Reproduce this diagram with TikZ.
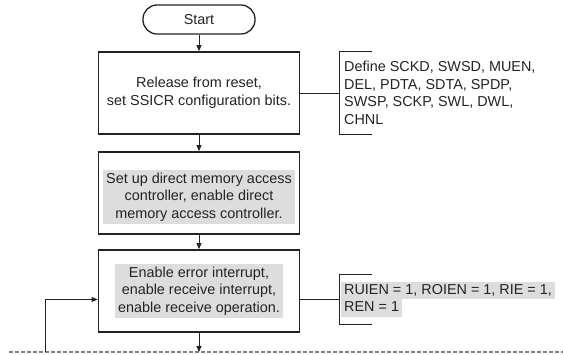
\documentclass[tikz,border=0pt]{standalone}
\usepackage{fontspec}
\setmainfont{Liberation Sans}
\usetikzlibrary{arrows.meta}
\definecolor{hlgray}{RGB}{221,221,221}
\definecolor{inkgray}{RGB}{35,35,35}
\newcommand{\hlrow}[1]{{\fboxsep=0pt\colorbox{hlgray}{\strut\hspace{3pt}#1\hspace{3pt}}}}

\begin{document}
\begin{tikzpicture}[x=1pt,y=-1pt,
	every node/.style={font=\fontsize{14.4}{17.5}\selectfont, text=inkgray},
	term/.style={draw=inkgray, line width=1.3pt, rounded corners=14pt, minimum width=112pt, minimum height=29pt, inner sep=0pt},
	proc/.style={draw=inkgray, line width=1.7pt, minimum width=201pt, minimum height=82pt, inner sep=0pt, align=center},
	shade/.style={fill=hlgray, align=center, inner xsep=3.5pt, inner ysep=3pt},
	note/.style={anchor=west, align=left, inner ysep=0pt},
	flow/.style={draw=inkgray, line width=0.8pt, -{Triangle[length=6pt,width=5pt]}},
	link/.style={draw=inkgray, line width=0.8pt},
	cut/.style={draw=gray, line width=1.2pt, dash pattern=on 3.5pt off 2.5pt}]
				\useasboundingbox (0,0) rectangle (563,355);
				\node[term] (start) at (199,19.5) {Start};
				\node[proc] (reset) at (199,93) {Release from reset,\\set SSICR configuration bits.};
				\node[proc] (dmac) at (199,193) {};
				\node[shade] (dmactxt) at (199,197) {Set up direct memory access\\controller, enable direct\\memory access controller.};
				\node[proc] (enable) at (199,291) {};
				\node[shade] (enabletxt) at (199,291) {Enable error interrupt,\\enable receive interrupt,\\enable receive operation.};
				\node[note, minimum height=82pt, inner xsep=5pt] (bits) at (339,93) {Define SCKD, SWSD, MUEN,\\DEL, PDTA, SDTA, SPDP,\\SWSP, SCKP, SWL, DWL,\\CHNL};
				\node[note, minimum height=50pt, inner xsep=2pt] (flags) at (339,299.5) {\hlrow{RUIEN = 1, ROIEN = 1, RIE = 1,}\\\hlrow{REN = 1}};
				\coordinate (cutl) at (9,352);
				\coordinate (cutr) at (563,352);
				\coordinate (back) at (45,352);
				\coordinate (down) at (199,352);
				\draw[cut] (cutl) -- (cutr);
				\draw[flow] (start) -- (reset);
				\draw[flow] (reset) -- (dmac);
				\draw[flow] (dmac) -- (enable);
				\draw[flow] (enable) -- (down);
				\draw[flow] (back) |- (enable.west |- flags.west);
				\draw[link] (reset.east) -- (bits.west);
				\draw[link] (enable.east |- flags.west) -- (flags.west);
				\draw[link] ([xshift=33pt]bits.north west) -- (bits.north west) -- (bits.south west) -- ([xshift=33pt]bits.south west);
				\draw[link] ([xshift=33pt]flags.north west) -- (flags.north west) -- (flags.south west) -- ([xshift=33pt]flags.south west);
\end{tikzpicture}
\end{document}
